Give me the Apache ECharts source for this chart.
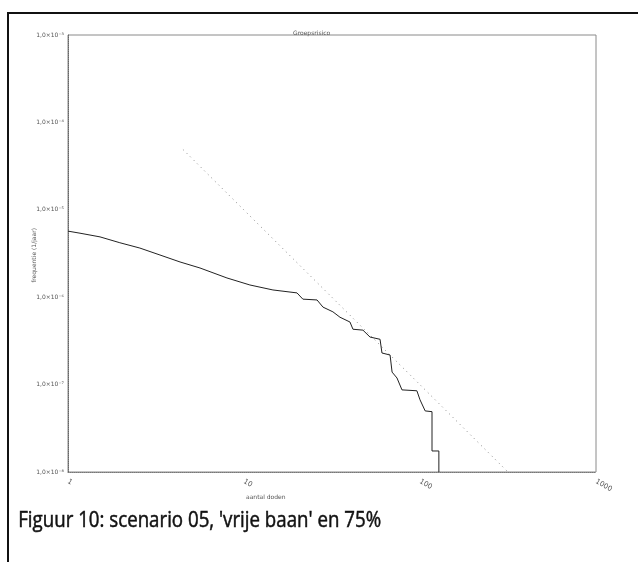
<!DOCTYPE html>
<html>
<head>
<meta charset="utf-8">
<title>Figuur 10</title>
<script src="https://cdn.jsdelivr.net/npm/echarts@6/dist/echarts.min.js"></script>
<style>
  html, body { margin: 0; padding: 0; background: #fff; }
  #chart { width: 638px; height: 562px; }
</style>
</head>
<body>
<div id="chart"></div>
<script>
var curveN = [1, 1.17, 1.52, 1.97, 2.56, 3.33, 4.33, 5.62, 8.0, 10.8, 14.6, 20, 21.6, 26, 28.1, 32, 35.1, 40, 41.6, 47.4, 52, 59.3, 60.8, 67.6, 69.4, 74, 79, 96, 100, 107, 117, 117, 128, 128];
var curveF = [5.7e-6, 5.4e-6, 4.9e-6, 4.2e-6, 3.65e-6, 3.04e-6, 2.53e-6, 2.16e-6, 1.66e-6, 1.38e-6, 1.21e-6, 1.12e-6, 9.5e-7, 9.3e-7, 7.7e-7, 6.8e-7, 5.9e-7, 5.2e-7, 4.3e-7, 4.2e-7, 3.5e-7, 3.3e-7, 2.3e-7, 2.18e-7, 1.39e-7, 1.19e-7, 8.7e-8, 8.5e-8, 6.7e-8, 5.0e-8, 4.9e-8, 1.74e-8, 1.74e-8, 1e-8];

// orientatiewaarde (stippellijn)
var normN = [4.5, 316];
var normF = [4.9e-5, 1e-8];

var xTicks = [1, 10, 100, 1000];
var yTicks = [1e-3, 1e-4, 1e-5, 1e-6, 1e-7, 1e-8];

var chartTitle = 'Groepsrisico';
var xName = 'aantal doden';
var yName = 'frequentie (1/jaar)';
var caption = "Figuur 10: scenario 05, 'vrije baan' en 75%";

var sup = { '-': '⁻', '0': '⁰', '1': '¹', '2': '²', '3': '³', '4': '⁴', '5': '⁵', '6': '⁶', '7': '⁷', '8': '⁸', '9': '⁹' };

function yLabel(v) {
    var e = String(Math.round(Math.log(v) / Math.LN10));
    var s = '';
    for (var i = 0; i < e.length; i++) {
        s += sup[e[i]];
    }
    return '1,0×10' + s;
}

function pairs(xs, ys) {
    var out = [];
    for (var i = 0; i < xs.length; i++) {
        out.push([xs[i], ys[i]]);
    }
    return out;
}

var chart = echarts.init(document.getElementById('chart'), null, { renderer: 'canvas' });

var option = {
    animation: false,
    backgroundColor: '#fff',
    title: {
        text: chartTitle,
        left: 288,
        top: 25,
        textStyle: { fontSize: 6, fontWeight: 'normal', color: '#555', fontFamily: 'DejaVu Sans' }
    },
    grid: {
        left: 68,
        right: 42,
        top: 35,
        bottom: 90,
        show: true,
        borderColor: '#8a8a8a',
        borderWidth: 1
    },
    xAxis: {
        type: 'log',
        logBase: 10,
        min: 1,
        max: 1000,
        axisLine: { show: true, lineStyle: { color: '#777', type: 'dotted', width: 1 } },
        axisTick: { show: false },
        splitLine: { show: false },
        minorTick: { show: false },
        axisLabel: {
            margin: 9,
            fontSize: 7,
            color: '#555',
            fontFamily: 'DejaVu Sans',
            rotate: -30,
            formatter: function(v) {
                return xTicks.indexOf(Math.round(v)) >= 0 ? String(Math.round(v)) : '';
            }
        }
    },
    yAxis: {
        type: 'log',
        logBase: 10,
        min: yTicks[yTicks.length - 1],
        max: yTicks[0],
        axisLine: { show: true, lineStyle: { color: '#666', type: 'dotted', width: 1 } },
        axisTick: { show: false },
        splitLine: { show: false },
        axisLabel: {
            margin: 4,
            fontSize: 6,
            color: '#555',
            fontFamily: 'DejaVu Sans',
            formatter: yLabel
        }
    },
    series: [
        {
            name: 'FN-curve',
            type: 'line',
            data: pairs(curveN, curveF),
            symbol: 'none',
            lineStyle: { color: '#222', width: 1 },
            z: 3
        },
        {
            name: 'orientatiewaarde',
            type: 'line',
            data: pairs(normN, normF),
            symbol: 'none',
            lineStyle: { color: '#888', width: 1, type: [1, 4] },
            z: 2
        }
    ],
    graphic: [
        // kader van de figuur
        { type: 'line', shape: { x1: 7, y1: 13, x2: 638, y2: 13 }, style: { stroke: '#111', lineWidth: 2 } },
        { type: 'line', shape: { x1: 8, y1: 12, x2: 8, y2: 562 }, style: { stroke: '#111', lineWidth: 2 } },
        {
            type: 'text',
            left: 31,
            top: 228,
            rotation: Math.PI / 2,
            style: { text: yName, fontSize: 6, fill: '#555', fontFamily: 'DejaVu Sans' }
        },
        {
            type: 'text',
            left: 246,
            top: 494,
            style: { text: xName, fontSize: 6, fill: '#555', fontFamily: 'DejaVu Sans' }
        },
        {
            type: 'text',
            left: 18,
            top: 510,
            scaleX: 0.89,
            style: { text: caption, fontSize: 21, fill: '#111', stroke: '#111', lineWidth: 0.5, fontFamily: 'Open Sans' }
        }
    ]
};

chart.setOption(option);
</script>
</body>
</html>
